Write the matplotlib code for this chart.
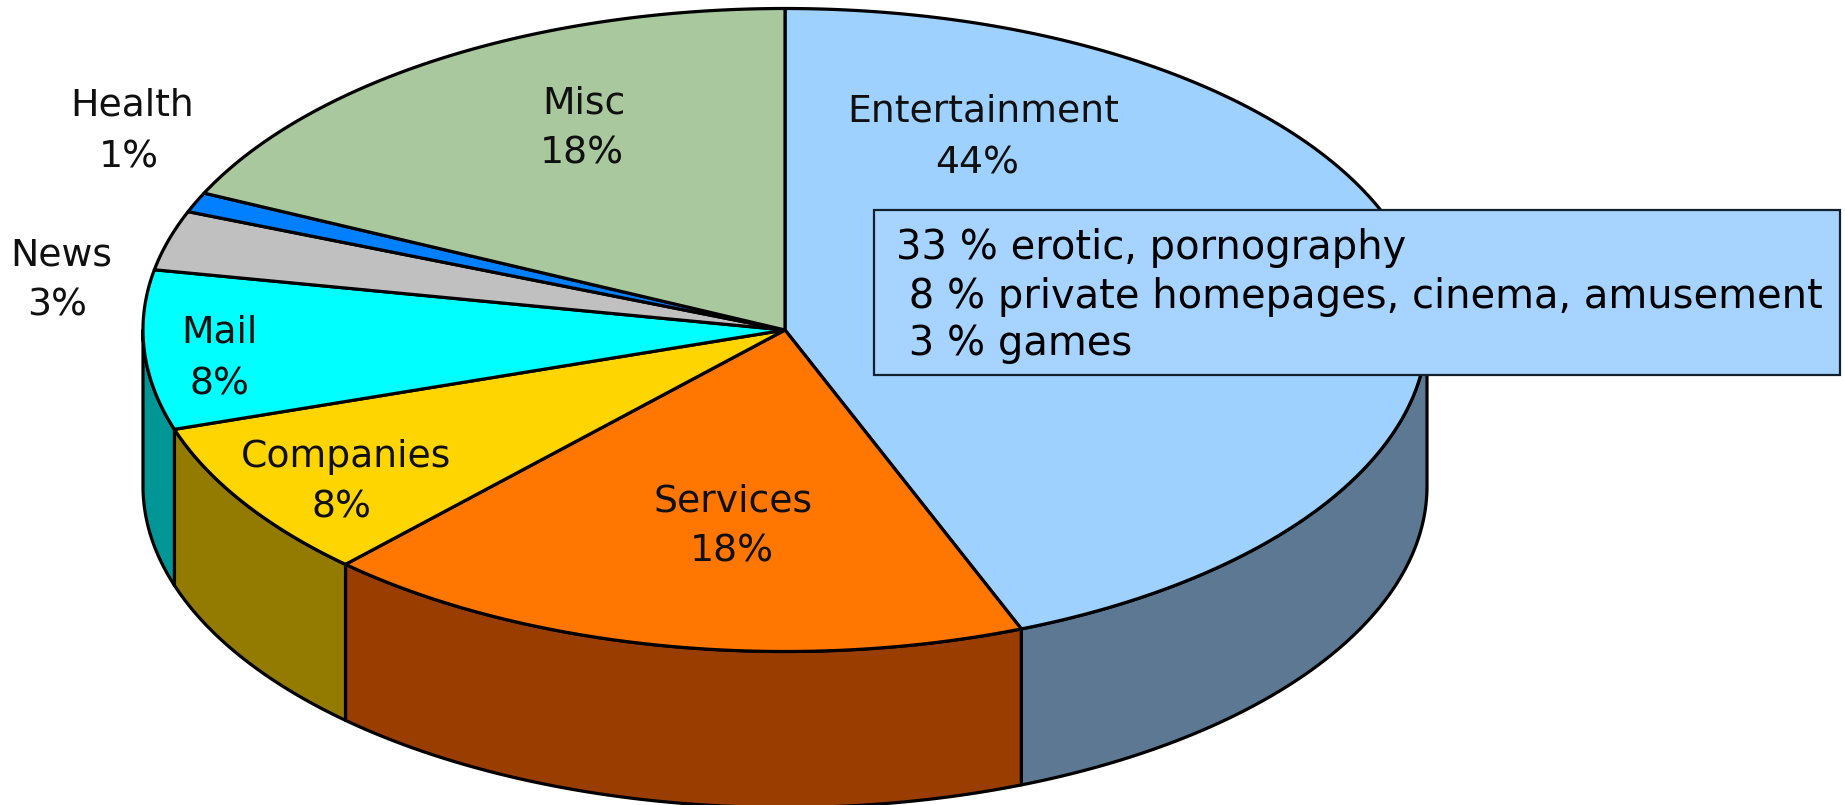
"""
3D pie of web content categories, drawn as polygons on a pixel axes.
"""
import matplotlib
matplotlib.use('Agg')
import matplotlib.pyplot as plt
import numpy as np
from matplotlib.patches import Polygon, Rectangle

categories = ['Entertainment', 'Services', 'Companies', 'Mail', 'News', 'Health', 'Misc']
shares = [44, 18, 8, 8, 3, 1, 18]
top_colors = ['#9FD1FF', '#FF7700', '#FFD500', '#00FFFF', '#C0C0C0', '#0080FF', '#A9C89E']
side_colors = ['#5C7893', '#993D00', '#937A00', '#009696', '#808080', '#004D99', '#658060']

breakdown = ['33 % erotic, pornography',
             ' 8 % private homepages, cinema, amusement',
             ' 3 % games']

# label centres in figure pixels: name x, name y, percent x, percent y
label_xy = {
    'Entertainment': (983, 112, 977, 163),
    'Services': (733, 501, 732, 551),
    'Companies': (346, 457, 342, 507),
    'Mail': (219, 332, 219, 384),
    'News': (61, 255, 57, 305),
    'Health': (132, 106, 129, 158),
    'Misc': (584, 103, 582, 154),
}

W, H = 1845, 805
CX, CY = 785, 330
RX, RY = 642, 321.5
DEPTH = 156
LW = 2.3
FS = 27.2
BOX_FS = 28.8

fig = plt.figure(figsize=(W / 100, H / 100), dpi=100)
ax = fig.add_axes([0, 0, 1, 1])
ax.set_xlim(0, W)
ax.set_ylim(H, 0)
ax.axis('off')


def rim(t0, t1, dy=0.0):
    # angles are degrees clockwise from twelve o'clock
    t = np.radians(np.linspace(t0, t1, 200))
    return np.column_stack([CX + RX * np.sin(t), CY - RY * np.cos(t) + dy])


edges = np.cumsum([0] + shares) * 3.6

# side walls first, only the front half of the disc is visible
for i, color in enumerate(side_colors):
    t0, t1 = max(edges[i], 90), min(edges[i + 1], 270)
    if t0 >= t1:
        continue
    pts = np.vstack([rim(t0, t1), rim(t0, t1, DEPTH)[::-1]])
    ax.add_patch(Polygon(pts, closed=True, fc=color, ec='black', lw=LW,
                         joinstyle='round', zorder=2))

# top face
for i, color in enumerate(top_colors):
    pts = np.vstack([[CX, CY], rim(edges[i], edges[i + 1])])
    ax.add_patch(Polygon(pts, closed=True, fc=color, ec='black', lw=LW,
                         joinstyle='round', zorder=3))

for name, pct in zip(categories, shares):
    nx, ny, px, py = label_xy[name]
    ax.text(nx, ny, name, ha='center', va='center', fontsize=FS,
            color='#101010', zorder=5)
    ax.text(px, py, f'{pct}%', ha='center', va='center', fontsize=FS,
            color='#101010', zorder=5)

# call-out box over the Entertainment slice
ax.add_patch(Rectangle((874, 210), 966, 165, fc='#A6D3FF', ec='#10202C', lw=1.6, zorder=6))
for line, y in zip(breakdown, [248, 297, 344]):
    ax.text(896, y, line, ha='left', va='center', fontsize=BOX_FS,
            color='black', zorder=7)

fig.savefig('out.png', dpi=100)
